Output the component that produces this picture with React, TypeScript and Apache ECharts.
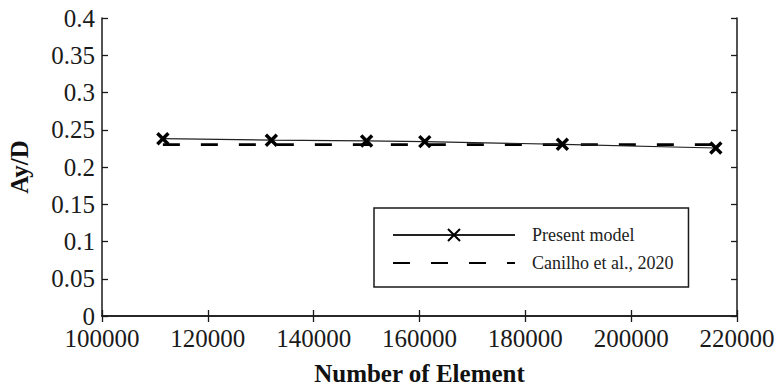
import React, { useEffect, useRef } from "react";
import * as echarts from "echarts";

const elements = [111500, 132000, 150000, 161000, 187000, 216000];
const presentModel = [0.238, 0.236, 0.235, 0.234, 0.2305, 0.2255];
const canilho = [0.23, 0.23, 0.23, 0.23, 0.23, 0.23];
const seriesNames = ["Present model", "Canilho et al., 2020"];
const xAxisTitle = "Number of Element";
const yAxisTitle = "Ay/D";

const FONT = "Liberation Serif";

export default function App() {
  const ref = useRef<HTMLDivElement>(null);
  useEffect(() => {
    if (!ref.current) return;
    const chart = echarts.init(ref.current, undefined, { renderer: "svg" });
    const axisLine = { show: true, lineStyle: { color: "#1a1a1a", width: 1.5 } };
    const tick = { show: true, inside: true, length: 6, lineStyle: { color: "#1a1a1a", width: 1.3 } };
    chart.setOption({
      animation: false,
      backgroundColor: "#fff",
      grid: {
        left: 102,
        right: 40,
        top: 18,
        bottom: 74,
        containLabel: false,
        outerBoundsMode: "none",
      },
      legend: {
        left: 374,
        top: 208,
        orient: "vertical",
        data: seriesNames,
        borderColor: "#1a1a1a",
        borderWidth: 1.5,
        borderRadius: 0,
        padding: [17, 15, 14, 18],
        itemWidth: 122,
        itemHeight: 15,
        itemGap: 8,
        textStyle: {
          fontFamily: FONT,
          fontSize: 18,
          color: "#222",
          lineHeight: 20,
          padding: [0, 0, 0, 12],
        },
      },
      xAxis: [
        {
          type: "value",
          min: 100000,
          max: 220000,
          interval: 20000,
          position: "bottom",
          name: xAxisTitle,
          nameLocation: "middle",
          nameGap: 45,
          nameTextStyle: { fontFamily: FONT, fontSize: 25, fontWeight: "bold", color: "#111" },
          axisLine,
          axisTick: tick,
          splitLine: { show: false },
          axisLabel: {
            fontFamily: FONT,
            fontSize: 25,
            color: "#1a1a1a",
            margin: 10,
            formatter: (v: number) => String(v),
          },
        },
        {
          type: "value",
          min: 100000,
          max: 220000,
          interval: 20000,
          position: "top",
          axisLine,
          axisTick: tick,
          splitLine: { show: false },
          axisLabel: { show: false },
        },
      ],
      yAxis: [
        {
          type: "value",
          min: 0,
          max: 0.4,
          interval: 0.05,
          position: "left",
          name: yAxisTitle,
          nameLocation: "middle",
          nameGap: 70,
          nameTextStyle: { fontFamily: FONT, fontSize: 25, fontWeight: "bold", color: "#111" },
          axisLine,
          axisTick: tick,
          splitLine: { show: false },
          axisLabel: { fontFamily: FONT, fontSize: 25, color: "#1a1a1a", margin: 7 },
        },
        {
          type: "value",
          min: 0,
          max: 0.4,
          interval: 0.05,
          position: "right",
          axisLine,
          axisTick: tick,
          splitLine: { show: false },
          axisLabel: { show: false },
        },
      ],
      series: [
        {
          name: seriesNames[0],
          type: "line",
          data: elements.map((x, i) => [x, presentModel[i]]),
          symbol: "path://M0,0 L10,10 M10,0 L0,10",
          symbolSize: 11,
          itemStyle: { color: "#000", borderColor: "#000", borderWidth: 3.4 },
          lineStyle: { color: "#222", width: 1.2 },
          z: 3,
        },
        {
          name: seriesNames[1],
          type: "line",
          data: elements.map((x, i) => [x, canilho[i]]),
          symbol: "circle",
          showSymbol: false,
          itemStyle: { color: "rgba(0,0,0,0)", borderWidth: 0 },
          lineStyle: { color: "#000", width: 2.6, type: [17, 21] },
          z: 2,
        },
      ],
    });
    return () => chart.dispose();
  }, []);
  return (
    <div
      ref={ref}
      style={{ position: "fixed", left: 0, top: 0, width: 777, height: 390 }}
    />
  );
}
